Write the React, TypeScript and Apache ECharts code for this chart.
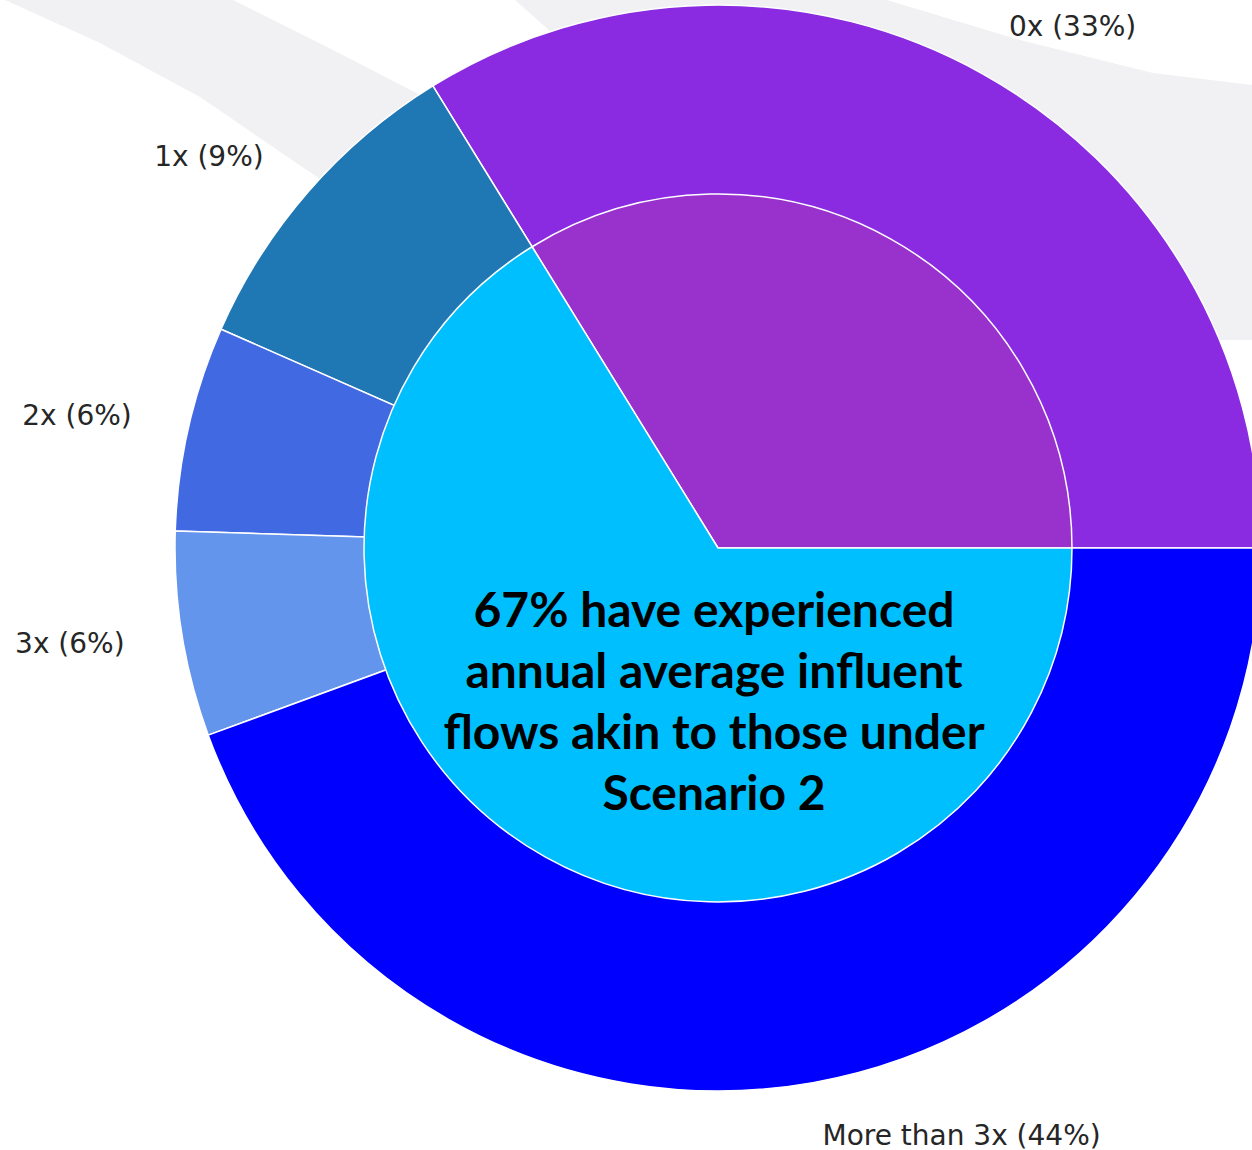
import React, { useEffect, useRef } from "react";
import * as echarts from "echarts";

// Outer ring: number of times annual average influent flows reached Scenario 2 levels
const outerCategories = ["0x", "1x", "2x", "3x", "More than 3x"];
const outerValues = [33.8, 9.6, 6.1, 6.1, 44.4];
const outerColors = ["#8a2be2", "#1f77b4", "#4169e1", "#6495ed", "#0000ff"];

// Inner pie: never vs. at least once
const innerCategories = ["Never", "At least once"];
const innerValues = [33.8, 66.2];
const innerColors = ["#9932cc", "#00bfff"];

const centerLines = [
  "67% have experienced",
  "annual average influent",
  "flows akin to those under",
  "Scenario 2",
];

export default function App() {
  const ref = useRef<HTMLDivElement>(null);

  useEffect(() => {
    if (!ref.current) return;
    const chart = echarts.init(ref.current, undefined, { renderer: "svg" });
    const option: any = {
      animation: false,
      backgroundColor: "#ffffff",
      graphic: [
        {
          type: "polygon",
          z: 0,
          silent: true,
          shape: {
            points: [
              [5, 0], [233, 0], [333, 50], [430, 100], [480, 220],
              [340, 200], [317, 177], [200, 97], [100, 43],
            ],
          },
          style: { fill: "#f1f1f3" },
        },
        {
          type: "polygon",
          z: 0,
          silent: true,
          shape: {
            points: [
              [515, 0], [887, 0], [1020, 40], [1153, 73], [1252, 85],
              [1252, 340], [1180, 340], [700, 200], [560, 40],
            ],
          },
          style: { fill: "#f1f1f3" },
        },
        {
          type: "text",
          z: 100,
          x: 714,
          y: 700,
          silent: true,
          style: {
            text: centerLines.join("\n"),
            fontFamily: "Lato",
            fontWeight: "bold",
            fontSize: 48,
            lineHeight: 61,
            fill: "#000000",
            align: "center",
            verticalAlign: "middle",
          },
        },
      ],
      series: [
        {
          type: "pie",
          z: 2,
          silent: true,
          radius: [0, 543],
          center: [718, 548],
          startAngle: 0,
          clockwise: false,
          avoidLabelOverlap: false,
          emphasis: { disabled: true },
          itemStyle: { borderColor: "#ffffff", borderWidth: 1.5 },
          label: {
            show: true,
            position: "outside",
            formatter: (p: any) => `${p.name} (${Math.floor(p.percent)}%)`,
            fontFamily: "DejaVu Sans",
            fontSize: 28,
            lineHeight: 26,
            color: "#262626",
            distanceToLabelLine: 0,
          },
          labelLine: { show: false, length: 54, length2: 0 },
          data: outerCategories.map((n, i) => ({
            name: n,
            value: outerValues[i],
            itemStyle: { color: outerColors[i] },
            label:
              i === 4
                ? { distanceToLabelLine: 0, padding: [0, 0, 6, 0] }
                : { distanceToLabelLine: i >= 1 && i <= 3 ? 4 : 0 },
          })),
        },
        {
          type: "pie",
          z: 3,
          silent: true,
          radius: [0, 354],
          center: [718, 548],
          startAngle: 0,
          clockwise: false,
          emphasis: { disabled: true },
          itemStyle: { borderColor: "#ffffff", borderWidth: 1.5 },
          label: { show: false },
          labelLine: { show: false },
          data: innerCategories.map((n, i) => ({
            name: n,
            value: innerValues[i],
            itemStyle: { color: innerColors[i] },
          })),
        },
      ],
    };
    chart.setOption(option);
    return () => chart.dispose();
  }, []);

  return (
    <div
      ref={ref}
      style={{ position: "absolute", left: 0, top: 0, width: 1252, height: 1150 }}
    />
  );
}
